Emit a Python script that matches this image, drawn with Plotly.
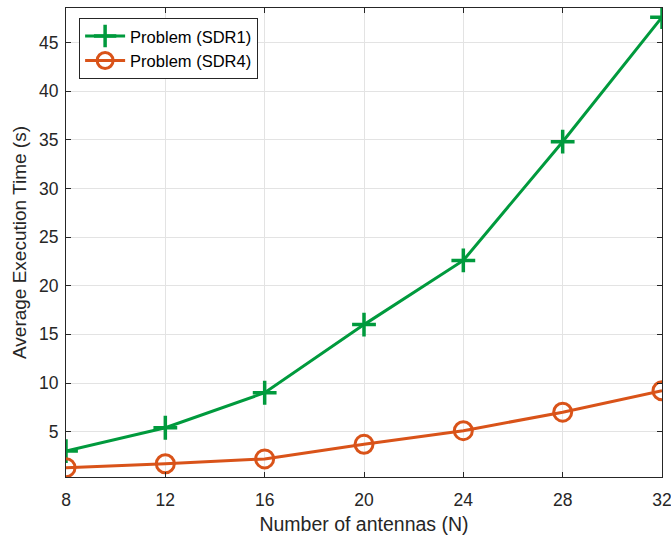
import plotly.graph_objects as go

antennas = [8, 12, 16, 20, 24, 28, 32]
sdr1_time = [3.0, 5.4, 9.0, 16.0, 22.6, 34.8, 47.6]
sdr4_time = [1.3, 1.7, 2.2, 3.7, 5.1, 7.0, 9.2]
x_ticks = [8, 12, 16, 20, 24, 28, 32]
y_ticks = [5, 10, 15, 20, 25, 30, 35, 40, 45]

green = "#009a3d"
orange = "#d95319"
axcol = "#262626"

fig = go.Figure()
fig.add_trace(go.Scatter(
    x=antennas, y=sdr1_time, mode="lines+markers", name="Problem (SDR1)",
    line=dict(color=green, width=3),
    marker=dict(symbol="cross-thin-open", size=17, line=dict(color=green, width=3.5)),
))
fig.add_trace(go.Scatter(
    x=antennas, y=sdr4_time, mode="lines+markers", name="Problem (SDR4)",
    line=dict(color=orange, width=3),
    marker=dict(symbol="circle-open", size=18, line=dict(color=orange, width=3)),
))

axis_common = dict(
    showline=True, linecolor=axcol, linewidth=1, mirror="allticks",
    ticks="inside", ticklen=5, tickcolor=axcol, tickwidth=1,
    showgrid=True, gridcolor="#e3e3e3", gridwidth=1, zeroline=False,
    ticklabeloverflow="allow", automargin=False,
    tickfont=dict(family="Liberation Sans, Arial", size=17.5, color=axcol),
)

fig.update_layout(
    width=671, height=535,
    margin=dict(l=66, r=9, t=8, b=58),
    paper_bgcolor="white", plot_bgcolor="white",
    font=dict(family="Liberation Sans, Arial", color=axcol),
    xaxis=dict(axis_common, range=[8, 32], tickvals=x_ticks, ticklabelstandoff=7,
               title=dict(text="Number of antennas (N)", font=dict(size=19.5, color=axcol), standoff=8)),
    yaxis=dict(axis_common, range=[0.34, 48.54], tickvals=y_ticks, ticklabelstandoff=3,
               title=dict(text="Average Execution Time (s)", font=dict(size=19, color=axcol), standoff=7)),
    legend=dict(x=0.022, y=0.979, xanchor="left", yanchor="top",
                bgcolor="white", bordercolor=axcol, borderwidth=1,
                font=dict(size=16.5, color="#000000"), tracegroupgap=0,
                itemwidth=40),
    showlegend=True,
)

fig.write_html("out.html")
